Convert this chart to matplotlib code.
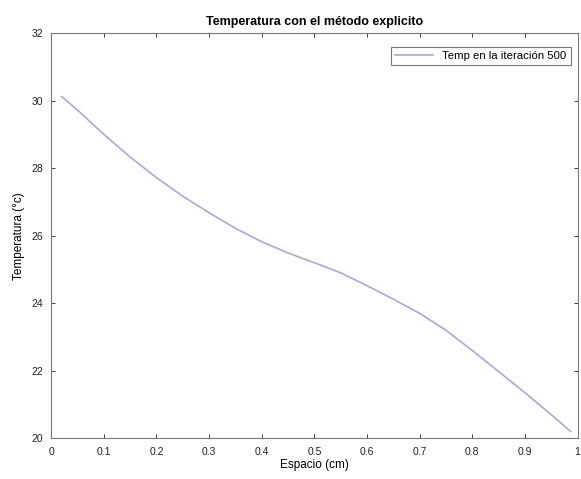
import numpy as np
import matplotlib.pyplot as plt

plt.rcParams["font.family"] = ["Liberation Sans", "DejaVu Sans"]

# perfil de temperatura
espacio = [0.02, 0.05, 0.1, 0.15, 0.2, 0.25, 0.3, 0.35, 0.4, 0.45, 0.5,
           0.55, 0.6, 0.65, 0.7, 0.75, 0.8, 0.85, 0.9, 0.95, 0.987]
temp = [30.12, 29.72, 29.0, 28.33, 27.72, 27.17, 26.68, 26.22, 25.82, 25.49, 25.2,
        24.9, 24.52, 24.12, 23.7, 23.2, 22.6, 21.98, 21.35, 20.7, 20.2]
xticks = np.round(np.arange(0, 1.01, 0.1), 1)
yticks = [20, 22, 24, 26, 28, 30, 32]

fig = plt.figure(figsize=(5.81, 4.79), dpi=100)
ax = fig.add_axes([0.088, 0.085, 0.906, 0.846])

ax.plot(espacio, temp, color="#a8a8e0", lw=1.2, label="Temp en la iteración 500")

ax.set_xlim(0, 1)
ax.set_ylim(20, 32)
ax.set_xticks(xticks)
ax.set_xticklabels([f"{t:g}" for t in xticks])
ax.set_yticks(yticks)
ax.tick_params(direction="in", top=True, right=True, length=3, width=0.6,
               colors="#222222", labelsize=7.5, pad=6)
for s in ax.spines.values():
    s.set_color("#777777")
    s.set_linewidth(0.8)

ax.set_title("Temperatura con el método explicito", fontsize=9,
             fontweight="bold", pad=6)
ax.set_xlabel("Espacio (cm)", fontsize=8.5, labelpad=2)
ax.set_ylabel("Temperatura (°c)", fontsize=8.5, labelpad=4)

leg = ax.legend(loc="upper right", bbox_to_anchor=(0.987, 0.965), fontsize=8.2,
                frameon=True, fancybox=False, handlelength=3.4, borderpad=0.35,
                borderaxespad=0)
leg.get_frame().set_edgecolor("#555555")
leg.get_frame().set_linewidth(0.8)

plt.savefig("out.png", dpi=100)
